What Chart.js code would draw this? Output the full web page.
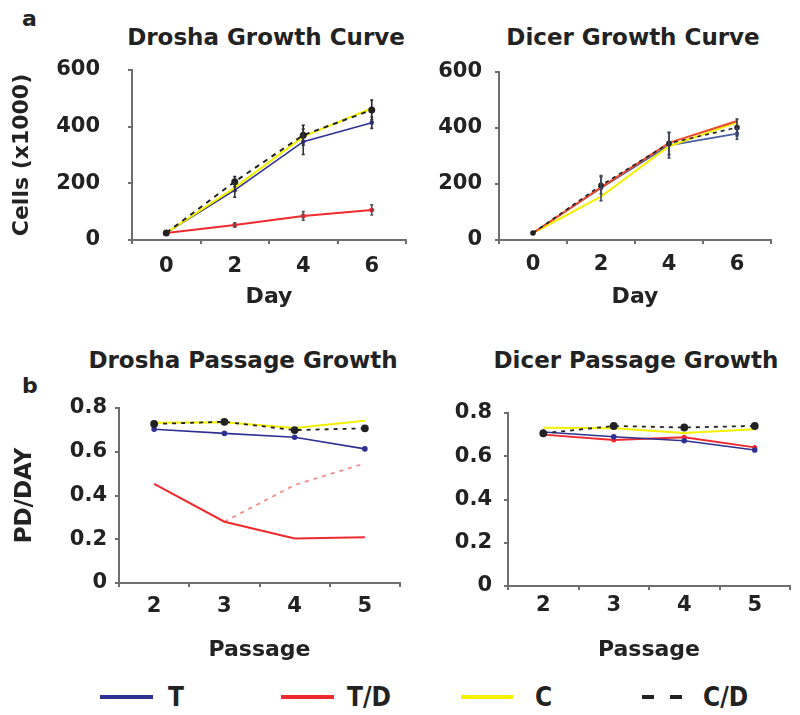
<!DOCTYPE html>
<html>
<head>
<meta charset="utf-8">
<script src="https://cdn.jsdelivr.net/npm/chart.js@4/dist/chart.umd.min.js"></script>
<style>
  html, body { margin: 0; padding: 0; background: #fff; }
  body { width: 800px; height: 715px; position: relative; overflow: hidden; font-family: 'DejaVu Sans', sans-serif; color: #222; }
  canvas { position: absolute; }
  .t { position: absolute; font-weight: bold; white-space: nowrap; text-align: center; line-height: 28px; }
  .title { font-size: 23px; width: 400px; }
  .panel { font-size: 22px; }
  .leg { position: absolute; top: 684px; height: 26px; line-height: 26px; font-family: 'Liberation Sans Narrow', 'DejaVu Sans Condensed', sans-serif; font-weight: bold; font-size: 26px; }
  .sw { position: absolute; height: 4px; top: 695px; }
</style>
</head>
<body>
<div class="t panel" style="left:22px; top:5px;">a</div>
<div class="t panel" style="left:22px; top:372px;">b</div>
<div class="t title" style="left:66px; top:23px;">Drosha Growth Curve</div>
<div class="t title" style="left:433px; top:23px;">Dicer Growth Curve</div>
<div class="t title" style="left:43px; top:346px;">Drosha Passage Growth</div>
<div class="t title" style="left:436px; top:346px;">Dicer Passage Growth</div>

<canvas id="c1" width="420" height="283" style="left:0px; top:29px;"></canvas>
<canvas id="c2" width="400" height="272" style="left:400px; top:40px;"></canvas>
<canvas id="c3" width="420" height="292" style="left:0px; top:378px;"></canvas>
<canvas id="c4" width="400" height="287" style="left:400px; top:383px;"></canvas>

<div class="sw" style="left:100px; width:53px; background:#2e3192;"></div>
<div class="leg" style="left:168px;">T</div>
<div class="sw" style="left:281px; width:53px; background:#ee2a2f;"></div>
<div class="leg" style="left:347px;">T/D</div>
<div class="sw" style="left:461px; width:52px; background:#f4f000;"></div>
<div class="leg" style="left:535px;">C</div>
<div class="sw" style="left:642px; width:12px; background:#222;"></div>
<div class="sw" style="left:670px; width:12px; background:#222;"></div>
<div class="leg" style="left:703px;">C/D</div>

<script>
// ---------- categories ----------
const days = ['0', '2', '4', '6'];
const passages = ['2', '3', '4', '5'];

// ---------- tick values ----------
const growthTicks = [0, 200, 400, 600];
const passageTicks = [0, 0.2, 0.4, 0.6, 0.8];

// ---------- Drosha growth curve (cells x1000) ----------
const droshaGrowthT  = [25, 176, 347, 414];
const droshaGrowthTD = [25, 53, 85, 106];
const droshaGrowthC  = [25, 185, 365, 465];
const droshaGrowthCD = [25, 206, 370, 459];
const droshaGrowthErrT  = [0, 25, 45, 20];
const droshaGrowthErrTD = [0, 8, 15, 18];
const droshaGrowthErrCD = [0, 18, 35, 35];

// ---------- Dicer growth curve (cells x1000) ----------
const dicerGrowthT  = [25, 185, 338, 380];
const dicerGrowthTD = [25, 188, 347, 425];
const dicerGrowthC  = [25, 155, 335, 420];
const dicerGrowthCD = [25, 195, 345, 402];
const dicerGrowthErrT  = [0, 45, 45, 20];
const dicerGrowthErrCD = [0, 30, 40, 30];

// ---------- Drosha passage growth (PD/day) ----------
const droshaPassT   = [0.703, 0.684, 0.666, 0.613];
const droshaPassTD  = [0.453, 0.280, 0.204, 0.209];
const droshaPassTDb = [null, 0.280, 0.448, 0.547];
const droshaPassC   = [0.733, 0.735, 0.709, 0.742];
const droshaPassCD  = [0.727, 0.737, 0.699, 0.707];

// ---------- Dicer passage growth (PD/day) ----------
const dicerPassT  = [0.712, 0.690, 0.672, 0.629];
const dicerPassTD = [0.700, 0.675, 0.688, 0.641];
const dicerPassC  = [0.732, 0.730, 0.707, 0.725];
const dicerPassCD = [0.706, 0.740, 0.733, 0.740];

// ---------- styles ----------
const BLUE = '#2e3192', RED = '#ee2a2f', YELLOW = '#f4f000', BLACK = '#222', PINK = '#f28a8a';
const AXIS = '#6e6e6e';

Chart.defaults.font.family = "'DejaVu Sans', sans-serif";
Chart.defaults.font.weight = 'bold';
Chart.defaults.color = '#222';

const errorBarPlugin = {
  id: 'errorBars',
  afterDatasetsDraw(chart) {
    const ctx = chart.ctx;
    const yScale = chart.scales.y;
    chart.data.datasets.forEach((ds, i) => {
      if (!ds.errorBars) return;
      const meta = chart.getDatasetMeta(i);
      meta.data.forEach((pt, j) => {
        const e = ds.errorBars[j], v = ds.data[j];
        if (!e || v == null) return;
        const y1 = yScale.getPixelForValue(v + e);
        const y2 = yScale.getPixelForValue(v - e);
        ctx.save();
        ctx.strokeStyle = ds.errorColor || '#333';
        ctx.lineWidth = 1.6;
        ctx.beginPath();
        ctx.moveTo(pt.x, y1); ctx.lineTo(pt.x, y2);
        ctx.moveTo(pt.x - 1.5, y1); ctx.lineTo(pt.x + 1.5, y1);
        ctx.moveTo(pt.x - 1.5, y2); ctx.lineTo(pt.x + 1.5, y2);
        ctx.stroke();
        ctx.restore();
      });
    });
  }
};

function ds(data, color, opts) {
  return Object.assign({
    data: data, borderColor: color, backgroundColor: color,
    borderWidth: 2, pointRadius: 0, tension: 0, fill: false, spanGaps: false
  }, opts || {});
}

function makeChart(id, cfg) {
  const xScale = {
    type: 'category', offset: true,
    grid: { display: true, drawOnChartArea: false, drawTicks: true, tickLength: 4, color: AXIS, lineWidth: 2, offset: true },
    border: { display: true, color: AXIS, width: 2 },
    ticks: { font: { size: 21, weight: 'bold' }, color: '#222', padding: cfg.xPad, maxRotation: 0 },
    title: { display: true, text: cfg.xTitle, font: { size: 22, weight: 'bold' }, color: '#222', padding: { top: 0, bottom: cfg.xTitlePad } },
    afterFit: (s) => { s.height = cfg.xHeight; }
  };
  const yScale = {
    type: 'linear', min: cfg.yTicks[0], max: cfg.yTicks[cfg.yTicks.length - 1],
    afterBuildTicks: (s) => { s.ticks = cfg.yTicks.map(v => ({ value: v })); },
    grid: { display: true, drawOnChartArea: false, drawTicks: true, tickLength: 4, color: AXIS, lineWidth: 2 },
    border: { display: true, color: AXIS, width: 2 },
    ticks: { font: { size: 21, weight: 'bold' }, color: '#222', padding: cfg.yPad,
      callback: (v) => String(Math.round(v * 1000) / 1000) },
    title: cfg.yTitle ? { display: true, text: cfg.yTitle, font: { size: cfg.yTitleSize, weight: 'bold' }, color: '#222', padding: { top: cfg.yTitlePad, bottom: 0 } } : { display: false },
    afterFit: (s) => { s.width = cfg.yWidth; }
  };
  return new Chart(document.getElementById(id), {
    type: 'line',
    data: { labels: cfg.labels, datasets: cfg.datasets },
    options: {
      responsive: false, animation: false, devicePixelRatio: 1,
      layout: { padding: cfg.padding },
      plugins: { legend: { display: false }, tooltip: { enabled: false }, title: { display: false } },
      scales: { x: xScale, y: yScale }
    },
    plugins: [errorBarPlugin]
  });
}

// Drosha growth curve
makeChart('c1', {
  labels: days, yTicks: growthTicks,
  padding: { top: 41, right: 14, bottom: 0, left: 0 },
  yWidth: 132, xHeight: 72, xPad: 10, yPad: 28,
  xTitle: 'Day', xTitlePad: 1.8,
  yTitle: 'Cells (x1000)', yTitleSize: 22, yTitlePad: 8.8,
  datasets: [
    ds(droshaGrowthCD, BLACK, { borderDash: [5, 5], pointRadius: 2.5, errorBars: droshaGrowthErrCD, errorColor: '#222', order: 0 }),
    ds(droshaGrowthC, YELLOW, { order: 1 }),
    ds(droshaGrowthT, BLUE, { borderWidth: 1.6, pointRadius: 1.5, errorBars: droshaGrowthErrT, errorColor: '#333', order: 2 }),
    ds(droshaGrowthTD, RED, { pointRadius: 1.5, errorBars: droshaGrowthErrTD, errorColor: '#555', order: 3 })
  ]
});

// Dicer growth curve
makeChart('c2', {
  labels: days, yTicks: growthTicks,
  padding: { top: 32, right: 29, bottom: 0, left: 0 },
  yWidth: 99, xHeight: 72, xPad: 8, yPad: 13,
  xTitle: 'Day', xTitlePad: 1.8,
  datasets: [
    ds(dicerGrowthCD, BLACK, { borderDash: [4, 4], borderWidth: 1.6, pointRadius: 2, errorBars: dicerGrowthErrCD, errorColor: '#333', order: 0 }),
    ds(dicerGrowthTD, '#ec4a2c', { order: 1 }),
    ds(dicerGrowthC, YELLOW, { order: 2 }),
    ds(dicerGrowthT, '#4a5fa0', { borderWidth: 1.6, pointRadius: 1.5, errorBars: dicerGrowthErrT, errorColor: '#3c4660', order: 3 })
  ]
});

// Drosha passage growth
makeChart('c3', {
  labels: passages, yTicks: passageTicks,
  padding: { top: 30, right: 20, bottom: 0, left: 0 },
  yWidth: 119, xHeight: 87, xPad: 7, yPad: 8,
  xTitle: 'Passage', xTitlePad: 6.8,
  yTitle: 'PD/DAY', yTitleSize: 23, yTitlePad: 11.2,
  datasets: [
    ds(droshaPassCD, BLACK, { borderDash: [4, 5], borderWidth: 1.8, pointRadius: 3, order: 0 }),
    ds(droshaPassC, YELLOW, { order: 1 }),
    ds(droshaPassT, BLUE, { borderWidth: 1.6, pointRadius: 2, order: 2 }),
    ds(droshaPassTD, RED, { order: 3 }),
    ds(droshaPassTDb, PINK, { borderDash: [4, 5], borderWidth: 1.8, order: 4 })
  ]
});

// Dicer passage growth
makeChart('c4', {
  labels: passages, yTicks: passageTicks,
  padding: { top: 30, right: 10, bottom: 0, left: 0 },
  yWidth: 108, xHeight: 84, xPad: 3, yPad: 12,
  xTitle: 'Passage', xTitlePad: 6.8,
  datasets: [
    ds(dicerPassCD, BLACK, { borderDash: [4, 5], borderWidth: 1.8, pointRadius: 3, order: 0 }),
    ds(dicerPassC, YELLOW, { order: 1 }),
    ds(dicerPassT, BLUE, { borderWidth: 1.6, pointRadius: 2, order: 2 }),
    ds(dicerPassTD, RED, { pointRadius: 1.5, order: 3 })
  ]
});
</script>
</body>
</html>
